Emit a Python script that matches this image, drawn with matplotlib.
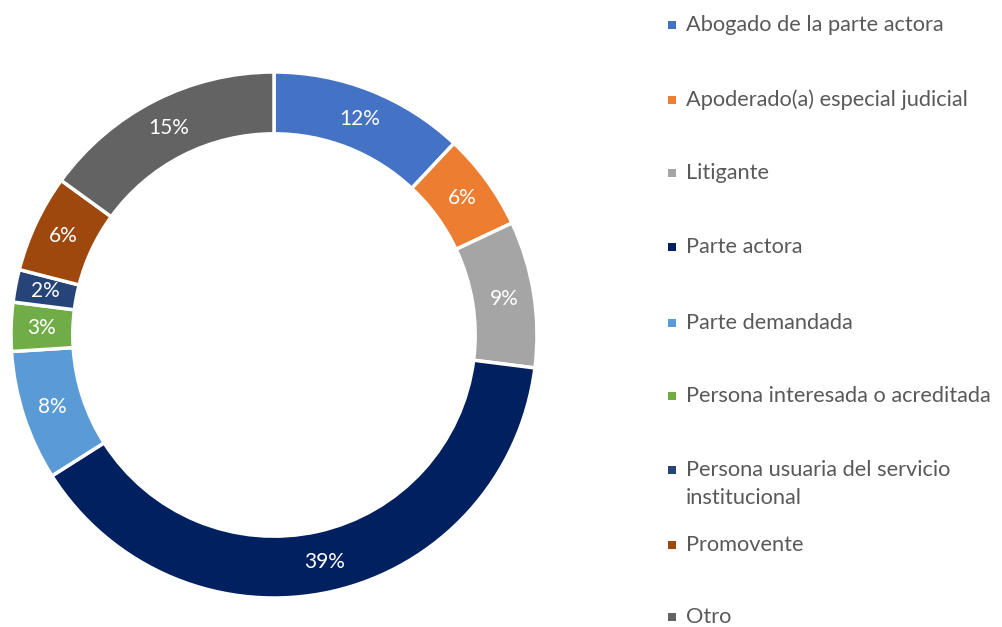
import matplotlib
matplotlib.use('Agg')
import matplotlib.pyplot as plt
from matplotlib.patches import Rectangle

categories = ['Abogado de la parte actora', 'Apoderado(a) especial judicial', 'Litigante',
              'Parte actora', 'Parte demandada', 'Persona interesada o acreditada',
              'Persona usuaria del servicio\ninstitucional', 'Promovente', 'Otro']
values = [12, 6, 9, 39, 8, 3, 2, 6, 15]
colors = ['#4472C4', '#ED7D31', '#A5A5A5', '#002060', '#5B9BD5', '#70AD47',
          '#264478', '#9E480E', '#636363']

plt.rcParams['font.family'] = ['Lato', 'DejaVu Sans']

W, H = 1003, 627
fig = plt.figure(figsize=(W / 100, H / 100), dpi=100)

cx, cy, r = 274, 335, 263
ax = fig.add_axes([(cx - r) / W, (H - cy - r) / H, 2 * r / W, 2 * r / H])

wedges, texts = ax.pie(values, colors=colors, startangle=90, counterclock=False,
                       radius=1, labels=[f'{v}%' for v in values], labeldistance=0.885,
                       wedgeprops=dict(width=0.235, edgecolor='white', linewidth=2.5),
                       textprops=dict(color='white', fontsize=15, ha='center', va='center'))
ax.set_xlim(-1, 1)
ax.set_ylim(-1, 1)
ax.set_aspect('equal')
ax.axis('off')

# legend drawn on the right
leg_y = [25, 100, 173, 247, 323, 396, 470, 545, 617]
for name, col, y in zip(categories, colors, leg_y):
    fig.patches.append(Rectangle((668 / W, (H - y - 4) / H), 8 / W, 8 / H,
                                 transform=fig.transFigure, facecolor=col, edgecolor='none'))
    ty = y + 14 if '\n' in name else y
    fig.text(686 / W, (H - ty) / H, name, fontsize=15.7, color='#595959',
             ha='left', va='center', linespacing=1.5)

fig.savefig('out.png', dpi=100)
